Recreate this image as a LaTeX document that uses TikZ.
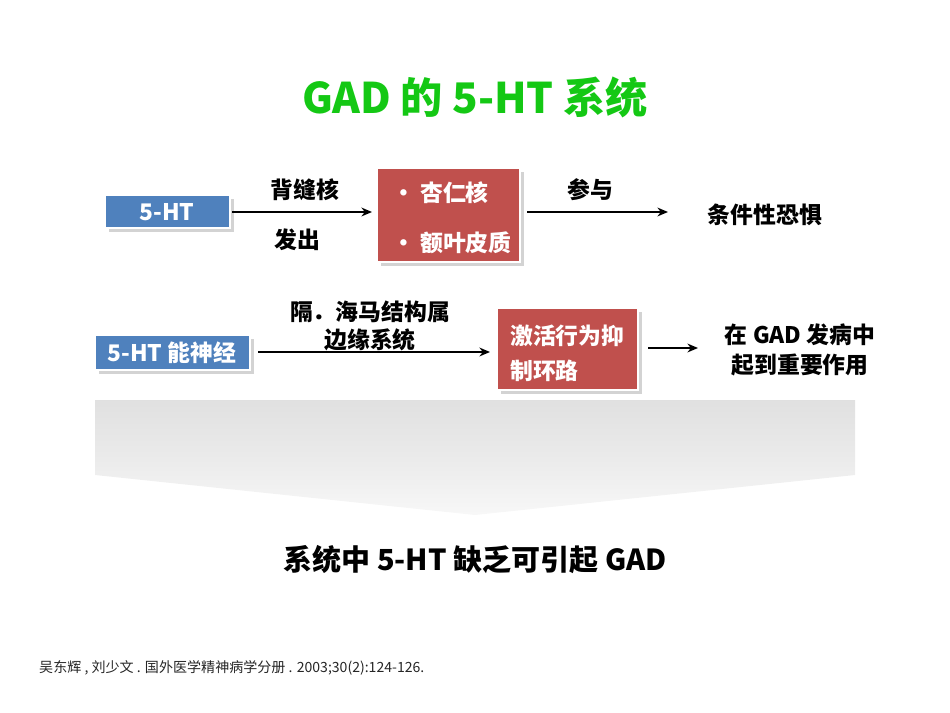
\documentclass[tikz,border=0pt]{standalone}
\usepackage{fontspec}
\setmainfont{Noto Sans CJK SC}
\usetikzlibrary{arrows.meta,shadows}
\definecolor{tgreen}{RGB}{20,200,20}
\definecolor{bblue}{RGB}{79,129,189}
\definecolor{rred}{RGB}{192,80,77}
\begin{document}
\begin{tikzpicture}[x=0.02cm,y=-0.02cm,
  lab/.style={font=\fontsize{13}{15}\selectfont\bfseries},
  bbox/.style={fill=bblue,draw=white,line width=1.2pt,drop shadow={opacity=0.35,shadow xshift=2pt,shadow yshift=-2pt}},
  rbox/.style={fill=rred,draw=white,line width=1.2pt,drop shadow={opacity=0.35,shadow xshift=2pt,shadow yshift=-2pt}},
  arr/.style={-{Stealth[length=6pt,width=5pt]},line width=1pt}]
\useasboundingbox (0,0) rectangle (950,713);
\node[text=tgreen,font=\fontsize{24}{27}\selectfont\bfseries] (title) at (475,97) {GAD 的 5-HT 系统};
% row 1
\draw[bbox] (105,195) rectangle (230,228);
\node[text=white,font=\fontsize{13}{15}\selectfont\bfseries] (at) at (167,212) {5-HT};
\draw[rbox] (377,168) rectangle (520,262);
\node[lab,text=white,anchor=west] (r1a) at (386,193) {• 杏仁核};
\node[lab,text=white,anchor=west] (r1b) at (386,243) {• 额叶皮质};
\coordinate (a1s) at (232,212); \coordinate (a1e) at (372,212);
\draw[arr] (a1s) -- (a1e);
\node[lab] (l1) at (305,190) {背缝核};
\node[lab] (l2) at (297,240) {发出};
\coordinate (a2s) at (527,212); \coordinate (a2e) at (668,212);
\draw[arr] (a2s) -- (a2e);
\node[lab] (l3) at (590,190) {参与};
\node[lab] (fear) at (765,215) {条件性恐惧};
% row 2
\draw[bbox] (95,335) rectangle (250,370);
\node[text=white,font=\fontsize{13}{15}\selectfont\bfseries] (b) at (172,353) {5-HT 能神经};
\node[lab] (l4) at (370,312) {隔．海马结构属};
\node[lab] (l5) at (370,340) {边缘系统};
\coordinate (b1s) at (258,352); \coordinate (b1e) at (490,352);
\draw[arr] (b1s) -- (b1e);
\draw[rbox] (497,308) rectangle (638,390);
\node[lab,text=white,anchor=west] (r2a) at (504,336) {激活行为抑};
\node[lab,text=white,anchor=west] (r2b) at (504,371) {制环路};
\coordinate (b2s) at (648,348); \coordinate (b2e) at (698,348);
\draw[arr] (b2s) -- (b2e);
\node[lab] (r3a) at (800,335) {在 GAD 发病中};
\node[lab] (r3b) at (800,365) {起到重要作用};
% gray arrow
\shade[top color=black!12,bottom color=black!3,middle color=black!8]
  (95,400) -- (855,400) -- (855,475) -- (475,515) -- (95,475) -- cycle;
\node[font=\fontsize{16.5}{19}\selectfont\bfseries] (concl) at (475,560) {系统中 5-HT 缺乏可引起 GAD};
\node[anchor=west,font=\fontsize{8}{9}\selectfont,text=black!85] (cite) at (33,668) {吴东辉 ,  刘少文 .  国外医学精神病学分册 . 2003;30(2):124-126.};
\end{tikzpicture}
\end{document}
